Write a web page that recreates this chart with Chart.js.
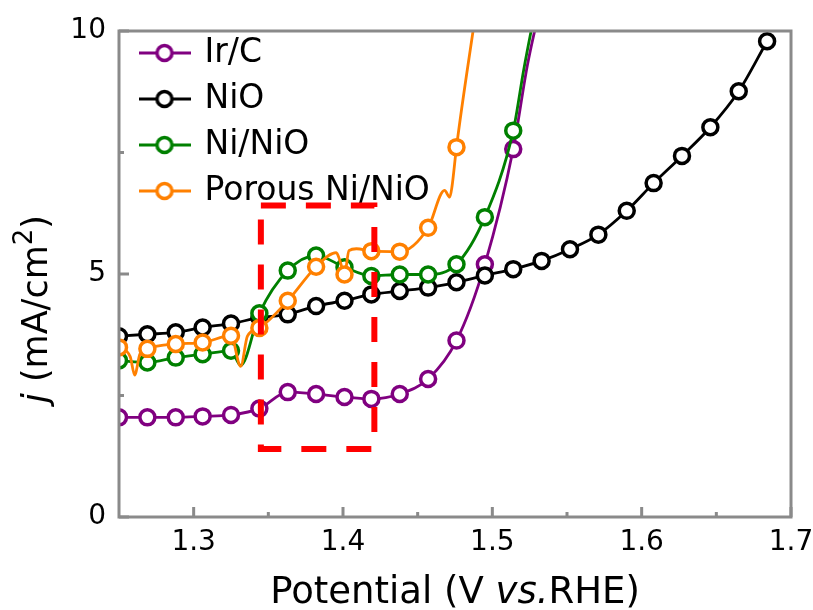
<!DOCTYPE html>
<html><head><meta charset="utf-8">
<script src="https://cdn.jsdelivr.net/npm/chart.js@4/dist/chart.umd.min.js"></script>
<style>html,body{margin:0;padding:0;background:#fff}#wrap{width:813px;height:610px}</style>
</head><body><div id="wrap"><canvas id="c" width="813" height="610"></canvas></div>
<script>
// ---------- data ----------
const seriesNames = ['Ir/C', 'NiO', 'Ni/NiO', 'Porous Ni/NiO'];
const seriesColors = ['#800080', '#000000', '#008000', '#FF8000'];
// potentials (V vs. RHE) of the circle markers
const markerV = [1.250,1.269,1.288,1.306,1.325,1.344,1.363,1.382,1.401,1.419,1.438,1.457,1.476,1.495,1.514,1.533,1.552,1.571,1.590,1.608,1.627,1.646,1.665,1.684];
// current density j (mA/cm2) at the markers
const ircJ    = [2.05,2.05,2.05,2.07,2.10,2.23,2.57,2.53,2.47,2.43,2.53,2.84,3.63,5.20,7.57];
const nioJ    = [3.72,3.76,3.80,3.90,3.98,4.10,4.17,4.34,4.45,4.58,4.65,4.72,4.83,4.97,5.10,5.27,5.51,5.81,6.30,6.87,7.43,8.02,8.76,9.79];
const ninioJ  = [3.22,3.18,3.28,3.35,3.42,4.19,5.07,5.38,5.14,4.96,4.99,4.99,5.20,6.17,7.95];
const porousJ = [3.49,3.46,3.56,3.59,3.73,3.89,4.45,5.15,4.99,5.47,5.46,5.95,7.61];
// extra (unmarked) points of the measured traces
const ircExtraV    = [1.5235, 1.532];
const ircExtraJ    = [9.30, 10.5];
const nioExtraV    = [];
const nioExtraJ    = [];
const ninioExtraV  = [1.3315, 1.521, 1.5285];
const ninioExtraJ  = [3.12, 9.20, 10.4];
const porousExtraV = [1.2575, 1.2605, 1.264, 1.3315, 1.336, 1.3955, 1.398, 1.404, 1.409, 1.468, 1.4715, 1.473, 1.4885];
const porousExtraJ = [3.30, 2.92, 3.35, 3.10, 3.72, 5.44, 5.27, 5.48, 5.52, 6.72, 6.58, 6.80, 10.3];
// dashed highlight box
const boxV = [1.345, 1.421];
const boxJ = [1.40, 6.41];
// axes
const xTickValues = [1.3, 1.4, 1.5, 1.6, 1.7];
const xTickLabels = ['1.3', '1.4', '1.5', '1.6', '1.7'];
const xMinorTicks = [1.35, 1.45, 1.55, 1.65];
const yTickValues = [0, 5, 10];
const yTickLabels = ['0', '5', '10'];
const yMinorTicks = [2.5, 7.5];

// ---------- build ----------
function buildTrace(mj, ev, ej) {
  const pts = mj.map((j, i) => ({x: markerV[i], y: j, mark: true}));
  ev.forEach((v, i) => pts.push({x: v, y: ej[i], mark: false}));
  pts.sort((a, b) => a.x - b.x);
  return pts;
}
const traces = [
  buildTrace(ircJ, ircExtraV, ircExtraJ),
  buildTrace(nioJ, nioExtraV, nioExtraJ),
  buildTrace(ninioJ, ninioExtraV, ninioExtraJ),
  buildTrace(porousJ, porousExtraV, porousExtraJ)
];
const drawOrder = [4, 3, 2, 1];
const FONT = 'DejaVu Sans';
const GRAY = '#8a8a8a';
Chart.defaults.font.family = FONT;

const datasets = traces.map((d, i) => ({
  label: seriesNames[i],
  data: d,
  showLine: true,
  borderColor: seriesColors[i],
  backgroundColor: '#fff',
  borderWidth: 2.8,
  cubicInterpolationMode: 'monotone',
  pointRadius: c => (c.raw && c.raw.mark) ? 7.5 : 0,
  pointHoverRadius: c => (c.raw && c.raw.mark) ? 7.5 : 0,
  pointBorderWidth: 3.5,
  pointBorderColor: seriesColors[i],
  pointBackgroundColor: '#fff',
  order: drawOrder[i]
}));
datasets.push({
  label: 'box',
  data: [
    {x: boxV[0], y: boxJ[1]}, {x: boxV[1], y: boxJ[1]},
    {x: boxV[1], y: boxJ[0]}, {x: boxV[0], y: boxJ[0]}, {x: boxV[0], y: boxJ[1]}
  ],
  showLine: true,
  borderColor: '#FF0000',
  borderWidth: 6,
  borderDash: [25, 20],
  tension: 0,
  pointRadius: 0,
  pointHoverRadius: 0,
  order: 0
});

function legendIcon(color) {
  const c = document.createElement('canvas');
  c.width = 52; c.height = 22;
  const g = c.getContext('2d');
  g.strokeStyle = color; g.lineWidth = 2.8;
  g.beginPath(); g.moveTo(0, 11); g.lineTo(52, 11); g.stroke();
  g.beginPath(); g.arc(26, 11, 7.5, 0, Math.PI * 2);
  g.fillStyle = '#fff'; g.fill(); g.lineWidth = 3.5; g.stroke();
  return c;
}
const icons = seriesColors.map(legendIcon);

const framePlugin = {
  id: 'frame',
  beforeDraw(chart) {
    const lg = chart.legend;
    if (lg) { lg.left = chart.chartArea.left + 9; lg.top = chart.chartArea.top - 7.5; }
  },
  afterDatasetsDraw(chart) {
    const {ctx, chartArea: a, scales: {x, y}} = chart;
    ctx.save();
    ctx.strokeStyle = GRAY; ctx.lineWidth = 3;
    ctx.strokeRect(a.left, a.top, a.right - a.left, a.bottom - a.top);
    ctx.beginPath();
    xTickValues.forEach(v => { const p = x.getPixelForValue(v); ctx.moveTo(p, a.bottom); ctx.lineTo(p, a.bottom - 10); });
    xMinorTicks.forEach(v => { const p = x.getPixelForValue(v); ctx.moveTo(p, a.bottom); ctx.lineTo(p, a.bottom - 5); });
    yTickValues.forEach(v => { const p = y.getPixelForValue(v); ctx.moveTo(a.left, p); ctx.lineTo(a.left + 10, p); });
    yMinorTicks.forEach(v => { const p = y.getPixelForValue(v); ctx.moveTo(a.left, p); ctx.lineTo(a.left + 5, p); });
    ctx.stroke();
    // x title
    ctx.fillStyle = '#000';
    ctx.textBaseline = 'alphabetic';
    ctx.textAlign = 'left';
    const xParts = [['Potential (V ', 'normal'], ['vs.', 'italic'], ['RHE)', 'normal']];
    let tot = 0;
    xParts.forEach(p => { ctx.font = p[1] + ' 37px "' + FONT + '"'; p.w = ctx.measureText(p[0]).width; tot += p.w; });
    let cx = (a.left + a.right) / 2 - tot / 2;
    xParts.forEach(p => { ctx.font = p[1] + ' 37px "' + FONT + '"'; ctx.fillText(p[0], cx, 603); cx += p.w; });
    // y title
    const yParts = [['j', 'italic', 35, 0], [' (mA/cm', 'normal', 35, 0], ['2', 'normal', 26, 15], [')', 'normal', 35, 0]];
    tot = 0;
    yParts.forEach(p => { ctx.font = p[1] + ' ' + p[2] + 'px "' + FONT + '"'; p.w = ctx.measureText(p[0]).width; tot += p.w; });
    ctx.translate(47, 309);
    ctx.rotate(-Math.PI / 2);
    cx = -tot / 2;
    yParts.forEach(p => { ctx.font = p[1] + ' ' + p[2] + 'px "' + FONT + '"'; ctx.fillText(p[0], cx, -p[3]); cx += p.w; });
    ctx.restore();
  }
};

new Chart(document.getElementById('c'), {
  type: 'scatter',
  data: {datasets},
  options: {
    responsive: false,
    devicePixelRatio: 1,
    animation: false,
    events: [],
    layout: {padding: {top: 31, right: 22, left: 0, bottom: 0}},
    scales: {
      x: {
        type: 'linear', min: 1.25, max: 1.7,
        afterBuildTicks: s => { s.ticks = xTickValues.map(v => ({value: v})); },
        afterFit: s => { s.height = 93; s.paddingRight = 0; s.paddingLeft = 0; },
        ticks: {callback: (v, i) => xTickLabels[i], font: {size: 28}, color: '#000', padding: 9, maxRotation: 0, autoSkip: false},
        grid: {display: false, drawTicks: false},
        border: {display: false}
      },
      y: {
        type: 'linear', min: 0, max: 10,
        afterBuildTicks: s => { s.ticks = yTickValues.map(v => ({value: v})); },
        afterFit: s => { s.width = 119; s.paddingTop = 0; s.paddingBottom = 0; },
        ticks: {callback: (v, i) => yTickLabels[i], font: {size: 28}, color: '#000', padding: 13, autoSkip: false},
        grid: {display: false, drawTicks: false},
        border: {display: false}
      }
    },
    plugins: {
      tooltip: {enabled: false},
      legend: {
        position: 'chartArea',
        align: 'start',
        labels: {
          usePointStyle: true,
          pointStyleWidth: 47,
          padding: 13,
          color: '#000',
          font: {size: 33},
          generateLabels: chart => seriesNames.map((n, i) => ({
            text: n, fillStyle: seriesColors[i], strokeStyle: seriesColors[i],
            lineWidth: 0, pointStyle: icons[i], datasetIndex: i, hidden: false, fontColor: '#000'
          }))
        }
      }
    }
  },
  plugins: [framePlugin]
});
</script>
</body></html>
